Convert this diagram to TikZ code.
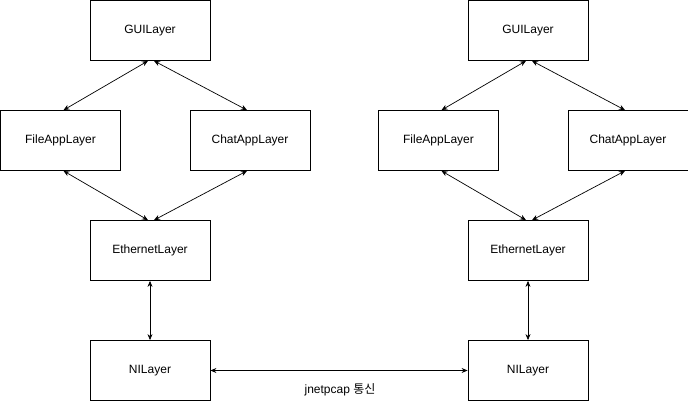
\documentclass[tikz,border=0pt]{standalone}
\usepackage{fontspec}
\setmainfont{Liberation Sans}
\newfontfamily\kor{Noto Sans CJK KR}
\usetikzlibrary{arrows.meta,calc}
\begin{document}
\begin{tikzpicture}[x=1pt,y=-1pt,
  layer/.style={draw,line width=0.8pt,minimum width=120pt,minimum height=60pt,inner sep=0pt,font=\fontsize{12}{14}\selectfont},
  link/.style={line width=0.7pt,{Stealth[length=6pt,width=5pt]}-{Stealth[length=6pt,width=5pt]}}]
\useasboundingbox (0,0) rectangle (688,401);
\foreach \o/\p in {0/L,378/R}{
  \node[layer] (gui\p) at (150+\o,30.5) {GUILayer};
  \node[layer] (file\p) at (60.5+\o,140.5) {FileAppLayer};
  \node[layer] (chat\p) at (250+\o,140.5) {ChatAppLayer};
  \node[layer] (eth\p) at (150+\o,250.5) {EthernetLayer};
  \node[layer] (ni\p) at (150+\o,370.5) {NILayer};
  \draw[link] ($(gui\p.south)+(-2,0)$) -- ($(file\p.north)+(3,0)$);
  \draw[link] ($(gui\p.south)+(4,0)$) -- ($(chat\p.north)+(-3,0)$);
  \draw[link] ($(file\p.south)+(3,0)$) -- ($(eth\p.north)+(-2,0)$);
  \draw[link] ($(chat\p.south)+(-3,0)$) -- ($(eth\p.north)+(4,0)$);
  \draw[link] (eth\p.south) -- (ni\p.north);
}
\draw[link] (niL.east) -- (niR.west);
\node[font=\fontsize{12}{14}\selectfont] (lbl) at (340,390) {jnetpcap {\kor 통신}};
\end{tikzpicture}
\end{document}
